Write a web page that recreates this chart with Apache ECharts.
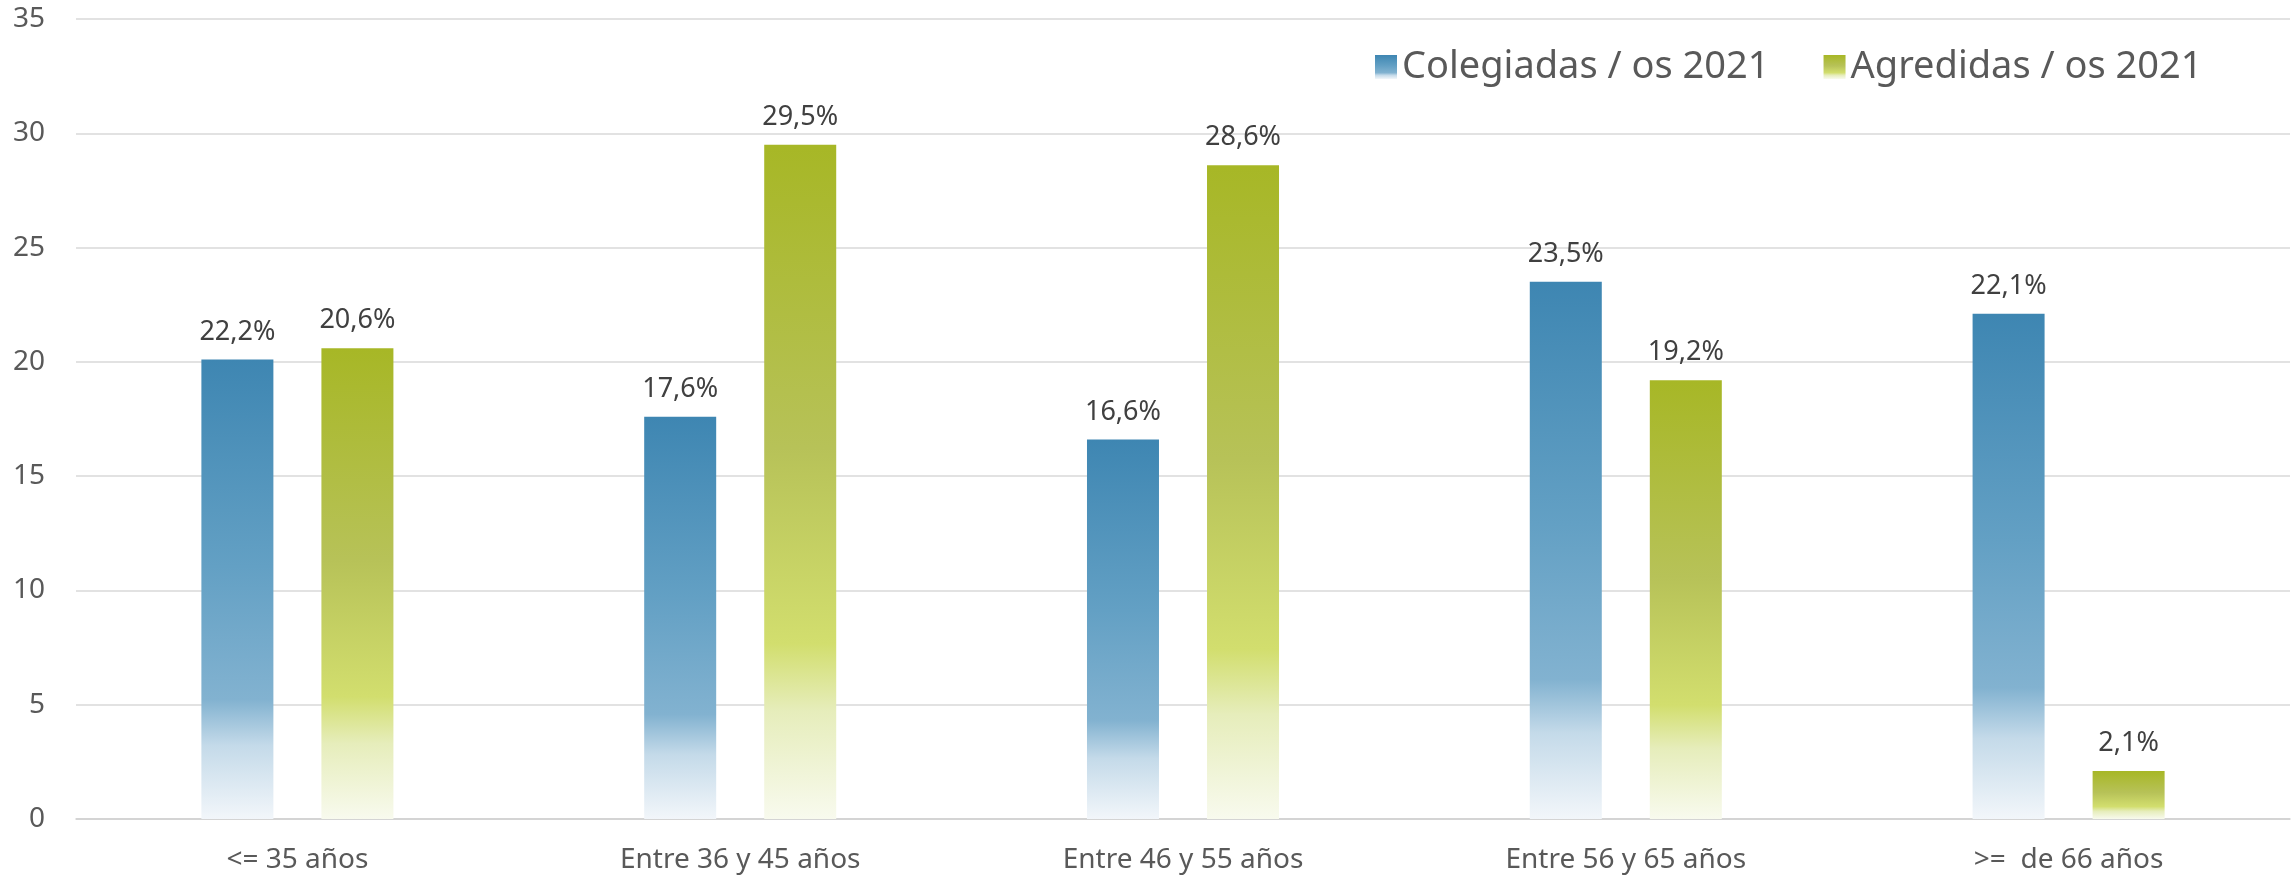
<!DOCTYPE html>
<html>
<head>
<meta charset="utf-8">
<script src="https://cdn.jsdelivr.net/npm/echarts@6/dist/echarts.min.js"></script>
<style>
html,body{margin:0;padding:0;background:#fff;}
#chart{width:2293px;height:878px;}
</style>
</head>
<body>
<div id="chart"></div>
<script>
var categories = ['<= 35 años', 'Entre 36 y 45 años', 'Entre 46 y 55 años', 'Entre 56 y 65 años', '>=  de 66 años'];
var seriesNames = ['Colegiadas / os 2021', 'Agredidas / os 2021'];
var colegiadasValues = [20.1, 17.6, 16.6, 23.5, 22.1];
var agredidasValues = [20.6, 29.5, 28.6, 19.2, 2.1];
var colegiadasLabels = ['22,2%', '17,6%', '16,6%', '23,5%', '22,1%'];
var agredidasLabels = ['20,6%', '29,5%', '28,6%', '19,2%', '2,1%'];
var yTicks = [0, 5, 10, 15, 20, 25, 30, 35];

var FONT = '"Noto Sans", "Open Sans", sans-serif';

function grad(stops) {
  return new echarts.graphic.LinearGradient(0, 0, 0, 1, stops.map(function (s) { return { offset: s[0], color: s[1] }; }));
}
var blueGrad = grad([[0, '#3e86b2'], [0.45, '#63a0c4'], [0.74, '#82b2d0'], [0.84, '#c4dae9'], [1, '#f2f6fa']]);
var greenGrad = grad([[0, '#a7b726'], [0.45, '#b7c258'], [0.74, '#d2de6e'], [0.84, '#e6edbb'], [1, '#f8faee']]);

var chart = echarts.init(document.getElementById('chart'), null, { renderer: 'canvas' });
chart.setOption({
  animation: false,
  backgroundColor: '#ffffff',
  textStyle: { fontFamily: FONT },
  legend: {
    left: 1370,
    top: 43,
    itemWidth: 22,
    itemHeight: 24,
    itemGap: 54,
    icon: 'rect',
    textStyle: { fontFamily: FONT, fontSize: 38, color: '#595959' },
    data: seriesNames
  },
  grid: { left: 76, right: 3, top: 19, bottom: 59, containLabel: false },
  xAxis: {
    type: 'category',
    data: categories,
    axisLine: { show: true, lineStyle: { color: '#d0d0d0', width: 1.5 } },
    axisTick: { show: false },
    axisLabel: { fontFamily: FONT, fontSize: 28, color: '#595959', margin: 27 }
  },
  yAxis: {
    type: 'value',
    min: yTicks[0],
    max: yTicks[yTicks.length - 1],
    interval: 5,
    axisLine: { show: false },
    axisTick: { show: false },
    splitLine: { lineStyle: { color: '#d9d9d9', width: 1.5 } },
    axisLabel: { fontFamily: FONT, fontSize: 28, color: '#595959', margin: 31 }
  },
  series: [
    {
      name: seriesNames[0],
      type: 'bar',
      data: colegiadasValues,
      barWidth: 72,
      barGap: '66.7%',
      itemStyle: { color: blueGrad },
      label: {
        show: true, position: 'top', distance: 14,
        fontFamily: FONT, fontSize: 27, color: '#404040',
        formatter: function (p) { return colegiadasLabels[p.dataIndex]; }
      }
    },
    {
      name: seriesNames[1],
      type: 'bar',
      data: agredidasValues,
      barWidth: 72,
      itemStyle: { color: greenGrad },
      label: {
        show: true, position: 'top', distance: 14,
        fontFamily: FONT, fontSize: 27, color: '#404040',
        formatter: function (p) { return agredidasLabels[p.dataIndex]; }
      }
    }
  ]
});
</script>
</body>
</html>
